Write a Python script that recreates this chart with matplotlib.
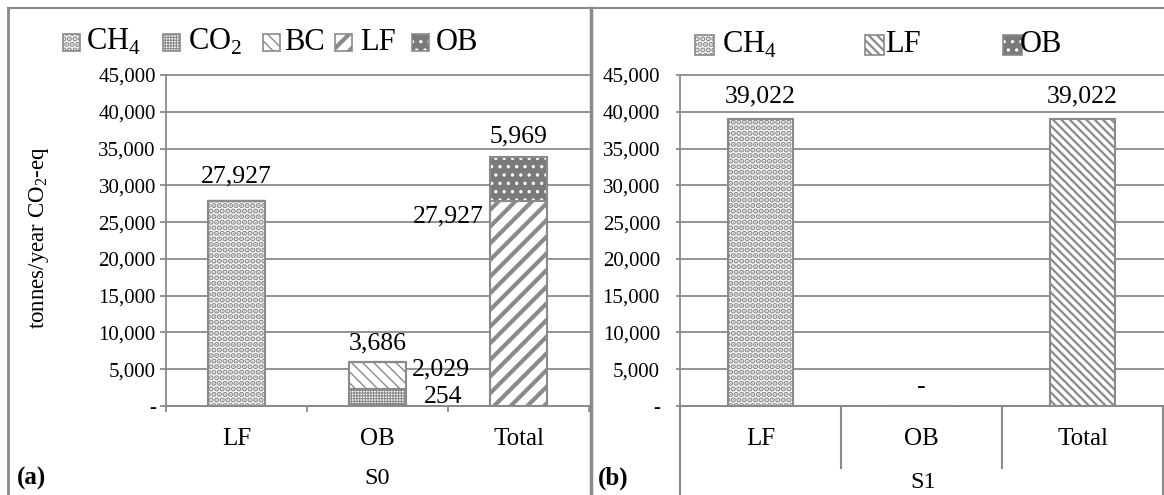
import numpy as np
import matplotlib
matplotlib.use("Agg")
import matplotlib.pyplot as plt
from matplotlib.patches import Rectangle
from matplotlib.lines import Line2D
from matplotlib.ticker import FuncFormatter
from matplotlib.transforms import blended_transform_factory

plt.rcParams['font.family'] = ['Liberation Serif', 'DejaVu Serif']
plt.rcParams['mathtext.fontset'] = 'custom'
plt.rcParams['mathtext.rm'] = 'Liberation Serif'

# --- data ---
categories = ['LF', 'OB', 'Total']
yticks = [0, 5000, 10000, 15000, 20000, 25000, 30000, 35000, 40000, 45000]

# scenario S0 (stacked components per category)
s0_ch4 = np.array([27927, 254, 0])
s0_co2 = np.array([0, 2029, 0])
s0_bc = np.array([0, 3686, 0])
s0_lf = np.array([0, 0, 27927])
s0_ob = np.array([0, 0, 5969])

# scenario S1
s1_ch4 = np.array([39022, 0, 0])
s1_lf = np.array([0, 0, 39022])
s1_ob = np.array([0, 0, 0])

W, H = 1164, 495
GREY = '#8a8a8a'
DARK = '#7a7a7a'

STYLES = {
    'CH4': dict(face='white', hatch='...', hlw=2.8),
    'CO2': dict(face='white', hatch='++++++', hlw=0.8),
    'BC': dict(face='white', hatch='\\\\\\', hlw=1.0),
    'LF_a': dict(face='white', hatch='//', hlw=3.0),
    'LF_b': dict(face='white', hatch='\\\\\\\\', hlw=1.6),
    'OB': dict(face=DARK, hatch='..', hlw=1.2),
}


def fx(px):
    return px / W


def fy(py):
    return 1 - py / H


def fmt(v):
    return '-' if v == 0 else f'{v:,.0f}'


def hatched_bar(ax, x, h, bottom, key, width=0.4):
    st = STYLES[key]
    if key == 'OB':
        with plt.rc_context({'hatch.linewidth': st['hlw']}):
            bars = ax.bar(x, h, width, bottom=bottom, color=st['face'],
                          edgecolor='white', hatch=st['hatch'], linewidth=0)
        ax.bar(x, h, width, bottom=bottom, fill=False, edgecolor=GREY, linewidth=1.5)
    else:
        with plt.rc_context({'hatch.linewidth': st['hlw']}):
            bars = ax.bar(x, h, width, bottom=bottom, color=st['face'],
                          edgecolor=GREY, hatch=st['hatch'], linewidth=1.5)
    return bars


def legend_key(fig, x_patch, x_text, y, key, label, size, fontsize):
    st = STYLES[key]
    kw = dict(transform=fig.transFigure)
    with plt.rc_context({'hatch.linewidth': st['hlw']}):
        if key == 'OB':
            fig.add_artist(Rectangle((fx(x_patch), fy(y + size / 2)), size / W, size / H,
                                     facecolor=st['face'], edgecolor='white',
                                     hatch=st['hatch'], linewidth=0, **kw))
            fig.add_artist(Rectangle((fx(x_patch), fy(y + size / 2)), size / W, size / H,
                                     fill=False, edgecolor=GREY, linewidth=1.2, **kw))
        else:
            fig.add_artist(Rectangle((fx(x_patch), fy(y + size / 2)), size / W, size / H,
                                     facecolor=st['face'], edgecolor=GREY,
                                     hatch=st['hatch'], linewidth=1.2, **kw))
    fig.text(fx(x_text), fy(y), label, fontsize=fontsize, va='center', ha='left')


def style_axis(ax, tick_len, tick_pad):
    x = np.arange(len(categories))
    ax.set_xlim(-0.5, 2.5)
    ax.set_ylim(0, 45000)
    ax.set_yticks(yticks)
    ax.yaxis.set_major_formatter(FuncFormatter(lambda v, p: fmt(v)))
    ax.yaxis.grid(True, color=GREY, linewidth=1.3)
    for gl in ax.get_ygridlines():
        gl.set_clip_on(False)
    ax.set_axisbelow(True)
    ax.tick_params(axis='y', direction='out', length=tick_len, width=1.3, color=GREY,
                   pad=tick_pad, labelsize=15)
    ax.set_xticks(x)
    ax.set_xticklabels(categories)
    ax.tick_params(axis='x', length=0, pad=16, labelsize=18)
    for side in ['top', 'right']:
        ax.spines[side].set_visible(False)
    for side in ['left', 'bottom']:
        ax.spines[side].set_color(GREY)
        ax.spines[side].set_linewidth(1.3)


fig = plt.figure(figsize=(W / 100, H / 100), dpi=100)

# ---------------- panel (a) ----------------
ax_a = fig.add_axes([fx(166), fy(406), 423 / W, 331 / H])
xa = np.arange(len(categories))
b0 = np.zeros(3)
hatched_bar(ax_a, xa, s0_ch4, b0, 'CH4')
b1 = b0 + s0_ch4
hatched_bar(ax_a, xa, s0_co2, b1, 'CO2')
b2 = b1 + s0_co2
hatched_bar(ax_a, xa, s0_bc, b2, 'BC')
b3 = b2 + s0_bc
hatched_bar(ax_a, xa, s0_lf, b3, 'LF_a')
b4 = b3 + s0_lf
hatched_bar(ax_a, xa, s0_ob, b4, 'OB')
top_a = b4 + s0_ob
style_axis(ax_a, 4.3, 3)
ax_a.set_xticks([-0.5, 0.5, 1.5, 2.5], minor=True)
ax_a.tick_params(axis='x', which='minor', direction='out', length=4.5, width=1.3, color=GREY)

lab = dict(textcoords='offset pixels', fontsize=18.5, va='center')
ax_a.annotate(fmt(s0_ch4[0]), (0, top_a[0]), xytext=(0, 24), ha='center', **lab)
ax_a.annotate(fmt(s0_bc[1]), (1, top_a[1]), xytext=(0, 19), ha='center', **lab)
ax_a.annotate(fmt(s0_co2[1]), (1.2, b2[1]), xytext=(6, 20), ha='left', **lab)
ax_a.annotate(fmt(s0_ch4[1]), (1.2, b1[1]), xytext=(18, 7), ha='left', **lab)
ax_a.annotate(fmt(s0_lf[2]), (1.8, b4[2]), xytext=(-7, -16), ha='right', **lab)
ax_a.annotate(fmt(s0_ob[2]), (2, top_a[2]), xytext=(0, 20), ha='center', **lab)

fig.text(fx(39), fy(238), r'tonnes/year CO$_\mathregular{2}$-eq', rotation=90,
         fontsize=16.5, ha='center', va='center')
fig.text(fx(377), fy(479), 'S0', fontsize=17.5, ha='center', va='center')
fig.text(fx(17), fy(478), '(a)', fontsize=18, fontweight='bold', ha='left', va='center')

legend_key(fig, 63, 86, 42, 'CH4', r'CH$_\mathregular{4}$', 17, 22)
legend_key(fig, 163, 188, 42, 'CO2', r'CO$_\mathregular{2}$', 17, 22)
legend_key(fig, 263, 284, 42, 'BC', 'BC', 17, 22)
legend_key(fig, 335, 360, 42, 'LF_a', 'LF', 17, 22)
legend_key(fig, 412, 436, 42, 'OB', 'OB', 17, 22)

# ---------------- panel (b) ----------------
ax_b = fig.add_axes([fx(680), fy(406), 483 / W, 331 / H])
xb = np.arange(len(categories))
c0 = np.zeros(3)
hatched_bar(ax_b, xb, s1_ch4, c0, 'CH4')
c1 = c0 + s1_ch4
hatched_bar(ax_b, xb, s1_lf, c1, 'LF_b')
c2 = c1 + s1_lf
top_b = c2 + s1_ob
style_axis(ax_b, 3, 11.4)

ax_b.annotate(fmt(s1_ch4[0]), (0, top_b[0]), xytext=(0, 23), ha='center', **lab)
ax_b.annotate(fmt(top_b[1]), (1, top_b[1]), xytext=(0, 19), ha='center', **lab)
ax_b.annotate(fmt(s1_lf[2]), (2, top_b[2]), xytext=(0, 23), ha='center', **lab)

# category table lines below the axis
tb = blended_transform_factory(ax_b.transData, ax_b.transAxes)
for xv, depth in [(-0.5, -0.3), (0.5, -62 / 331), (1.5, -62 / 331), (2.5, -0.3)]:
    ax_b.add_line(Line2D([xv, xv], [0, depth], transform=tb, color=GREY,
                         linewidth=1.5, clip_on=False))

fig.text(fx(923), fy(483), 'S1', fontsize=17.5, ha='center', va='center')
fig.text(fx(598), fy(478), '(b)', fontsize=18, fontweight='bold', ha='left', va='center')

legend_key(fig, 695, 722, 45, 'CH4', r'CH$_\mathregular{4}$', 19, 22)
legend_key(fig, 865, 885, 45, 'LF_b', 'LF', 19, 22)
legend_key(fig, 1003, 1020, 45, 'OB', 'OB', 19, 22)

# ---------------- frame lines ----------------
fig.add_artist(Line2D([fx(8), 1], [fy(8), fy(8)], color=GREY, linewidth=1.5))
fig.add_artist(Line2D([fx(8), fx(8)], [fy(8), 0], color=GREY, linewidth=2))
fig.add_artist(Line2D([fx(591), fx(591)], [fy(8), 0], color=GREY, linewidth=2.5))

fig.savefig('out.png', dpi=100)
